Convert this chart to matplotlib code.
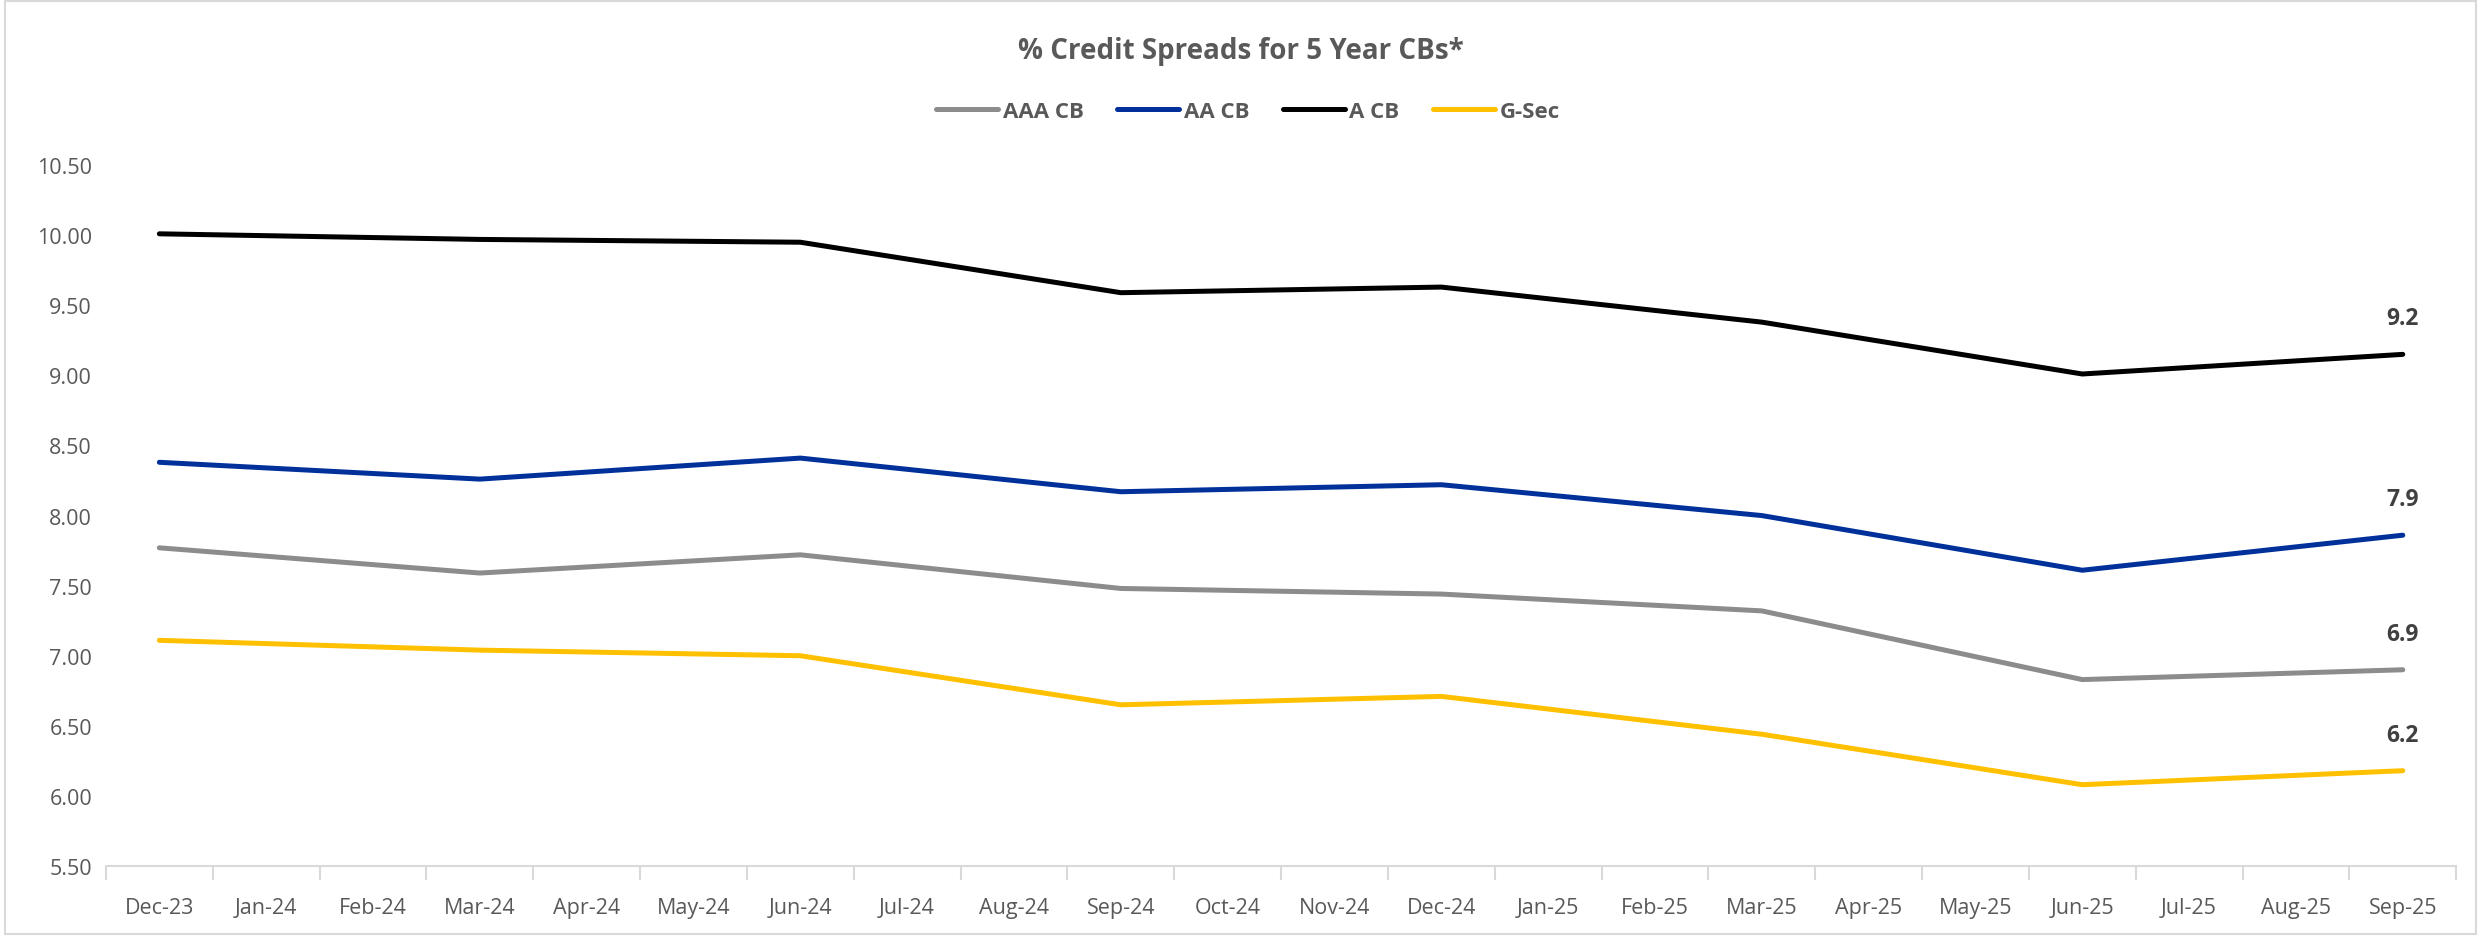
import numpy as np
import matplotlib.pyplot as plt
from matplotlib.patches import Rectangle

# eixo mensal e séries trimestrais
meses = ['Dec-23', 'Jan-24', 'Feb-24', 'Mar-24', 'Apr-24', 'May-24', 'Jun-24', 'Jul-24',
         'Aug-24', 'Sep-24', 'Oct-24', 'Nov-24', 'Dec-24', 'Jan-25', 'Feb-25', 'Mar-25',
         'Apr-25', 'May-25', 'Jun-25', 'Jul-25', 'Aug-25', 'Sep-25']
trimestres = ['Dec-23', 'Mar-24', 'Jun-24', 'Sep-24', 'Dec-24', 'Mar-25', 'Jun-25', 'Sep-25']

aaa_cb = [7.77, 7.59, 7.72, 7.48, 7.44, 7.32, 6.83, 6.90]
aa_cb = [8.38, 8.26, 8.41, 8.17, 8.22, 8.00, 7.61, 7.86]
a_cb = [10.01, 9.97, 9.95, 9.59, 9.63, 9.38, 9.01, 9.15]
g_sec = [7.11, 7.04, 7.00, 6.65, 6.71, 6.44, 6.08, 6.18]

series = [('AAA CB', aaa_cb, '#8c8c8c'),
          ('AA CB', aa_cb, '#00309a'),
          ('A CB', a_cb, '#000000'),
          ('G-Sec', g_sec, '#ffc000')]

plt.rcParams['font.family'] = ['Open Sans', 'DejaVu Sans']

fig = plt.figure(figsize=(24.81, 9.37), dpi=100)
ax = fig.add_axes([0.0427, 0.0747, 0.9473, 0.748])

pos = [meses.index(m) for m in trimestres]
for nome, valores, cor in series:
    ax.plot(pos, valores, color=cor, lw=3.6, solid_capstyle='round', label=nome)
    ax.annotate(f'{valores[-1]:.1f}', (pos[-1], valores[-1]), xytext=(0, 24),
                textcoords='offset pixels', ha='center', va='bottom',
                fontsize=16.5, fontweight='bold', color='#404040')

ax.set_xlim(-0.5, len(meses) - 0.5)
ax.set_ylim(5.5, 10.5)
ax.set_yticks(np.arange(5.5, 10.51, 0.5))
ax.set_yticklabels([f'{v:.2f}' for v in np.arange(5.5, 10.51, 0.5)])
ax.set_xticks(range(len(meses)))
ax.set_xticklabels(meses)
ax.set_xticks(np.arange(-0.5, len(meses), 1), minor=True)
ax.tick_params(axis='x', which='major', length=0, pad=22, labelsize=15.5, labelcolor='#595959')
ax.tick_params(axis='x', which='minor', length=10, width=1.5, color='#d9d9d9')
ax.tick_params(axis='y', length=0, pad=10, labelsize=15.5, labelcolor='#595959')

for lado in ['top', 'right', 'left']:
    ax.spines[lado].set_visible(False)
ax.spines['bottom'].set_color('#d9d9d9')
ax.spines['bottom'].set_linewidth(1.5)

fig.text(0.5, 0.945, '% Credit Spreads for 5 Year CBs*', ha='center', va='center',
         fontsize=20, fontweight='bold', color='#595959')
leg = fig.legend(loc='center', bbox_to_anchor=(0.503, 0.88), ncol=4, frameon=False,
                 fontsize=16, handlelength=2.8, handletextpad=0.2, columnspacing=1.5)
for t in leg.get_texts():
    t.set_fontweight('bold')
    t.set_color('#595959')

# moldura do gráfico
fig.patches.append(Rectangle((0.002, 0.002), 0.996, 0.996, transform=fig.transFigure,
                             fill=False, edgecolor='#d9d9d9', lw=1.5))

fig.savefig('out.png', dpi=100)
